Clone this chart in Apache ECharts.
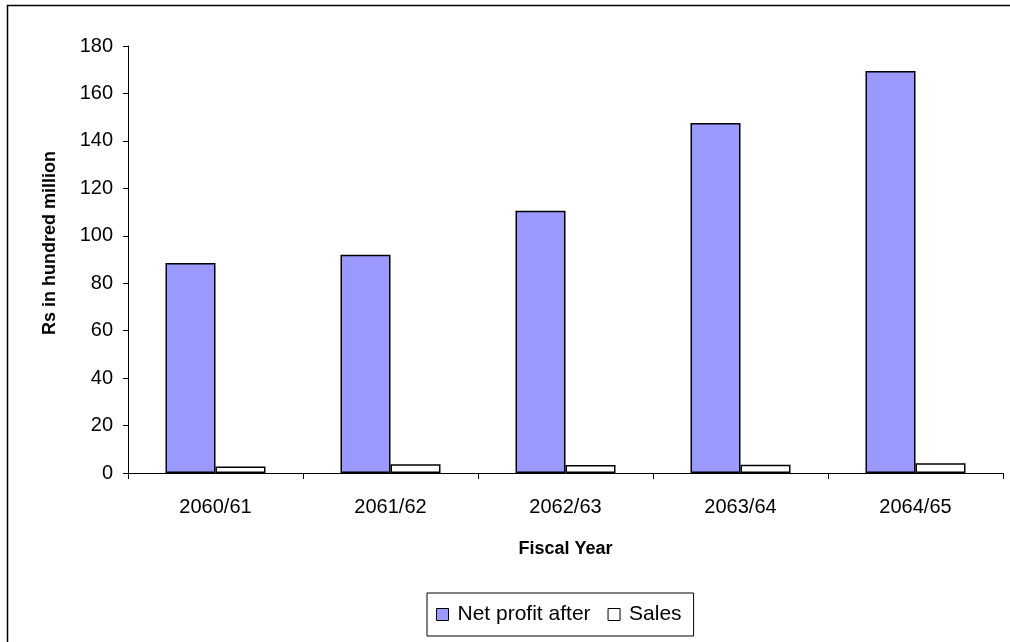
<!DOCTYPE html>
<html>
<head>
<meta charset="utf-8">
<script src="https://cdn.jsdelivr.net/npm/echarts@6/dist/echarts.min.js"></script>
<style>
  html, body { margin: 0; padding: 0; background: #fff; }
  #chart { width: 1010px; height: 642px; }
</style>
</head>
<body>
<div id="chart"></div>
<script>
// Fiscal years and values (Rs in hundred million)
const fiscalYears = ['2060/61', '2061/62', '2062/63', '2063/64', '2064/65'];
const netProfit = [88.5, 92, 110.5, 147.5, 169.5];
const sales = [2.7, 3.7, 3.4, 3.5, 4.1];
const yTicks = { min: 0, max: 180, interval: 20 };

const FONT = '"Liberation Sans", Arial, sans-serif';
const chart = echarts.init(document.getElementById('chart'), null, { renderer: 'canvas' });

chart.setOption({
  animation: false,
  backgroundColor: '#fff',
  textStyle: { fontFamily: FONT, color: '#000' },
  graphic: [
    {
      // chart-area frame
      type: 'rect',
      shape: { x: 7.5, y: 5.5, width: 1010, height: 700 },
      style: { fill: 'none', stroke: '#000', lineWidth: 1.5 },
      silent: true
    },
    {
      // value-axis title
      type: 'text',
      x: 50,
      y: 243,
      rotation: Math.PI / 2,
      style: {
        text: 'Rs in hundred million',
        fontFamily: FONT,
        fontSize: 18,
        fontWeight: 'bold',
        fill: '#000',
        textAlign: 'center',
        textVerticalAlign: 'middle'
      },
      silent: true
    }
  ],
  grid: { left: 128, right: 7, top: 46, bottom: 169, containLabel: false },
  legend: {
    left: 427,
    top: 593,
    itemWidth: 12,
    itemHeight: 12,
    itemGap: 17,
    padding: [11, 12, 11, 9],
    borderColor: '#000',
    borderWidth: 1,
    icon: 'rect',
    textStyle: { fontFamily: FONT, fontSize: 21, color: '#000', padding: [0, 0, 0, 4] },
    data: [
      { name: 'Net profit after', itemStyle: { color: '#9999ff', borderColor: '#000', borderWidth: 1 } },
      { name: 'Sales', itemStyle: { color: '#ffffff', borderColor: '#000', borderWidth: 1 } }
    ]
  },
  xAxis: {
    type: 'category',
    data: fiscalYears,
    name: 'Fiscal Year',
    nameLocation: 'middle',
    nameGap: 67,
    nameTextStyle: { fontFamily: FONT, fontSize: 18, fontWeight: 'bold', color: '#000' },
    axisLine: { lineStyle: { color: '#000', width: 1 } },
    axisTick: { show: true, alignWithLabel: false, length: 6, lineStyle: { color: '#000' } },
    axisLabel: { fontFamily: FONT, fontSize: 20, color: '#000', margin: 24 },
    splitLine: { show: false }
  },
  yAxis: {
    type: 'value',
    min: yTicks.min,
    max: yTicks.max,
    interval: yTicks.interval,
    axisLine: { show: true, lineStyle: { color: '#000', width: 1 } },
    axisTick: { show: true, length: 5, lineStyle: { color: '#000' } },
    axisLabel: { fontFamily: FONT, fontSize: 20, color: '#000', margin: 15 },
    splitLine: { show: false }
  },
  series: [
    {
      name: 'Net profit after',
      type: 'bar',
      data: netProfit,
      barWidth: 50,
      barGap: '0%',
      itemStyle: { color: '#9999ff', borderColor: '#000', borderWidth: 1.5 }
    },
    {
      name: 'Sales',
      type: 'bar',
      data: sales,
      barWidth: 50,
      barGap: '0%',
      itemStyle: { color: '#ffffff', borderColor: '#000', borderWidth: 1.5 }
    }
  ]
});
</script>
</body>
</html>
